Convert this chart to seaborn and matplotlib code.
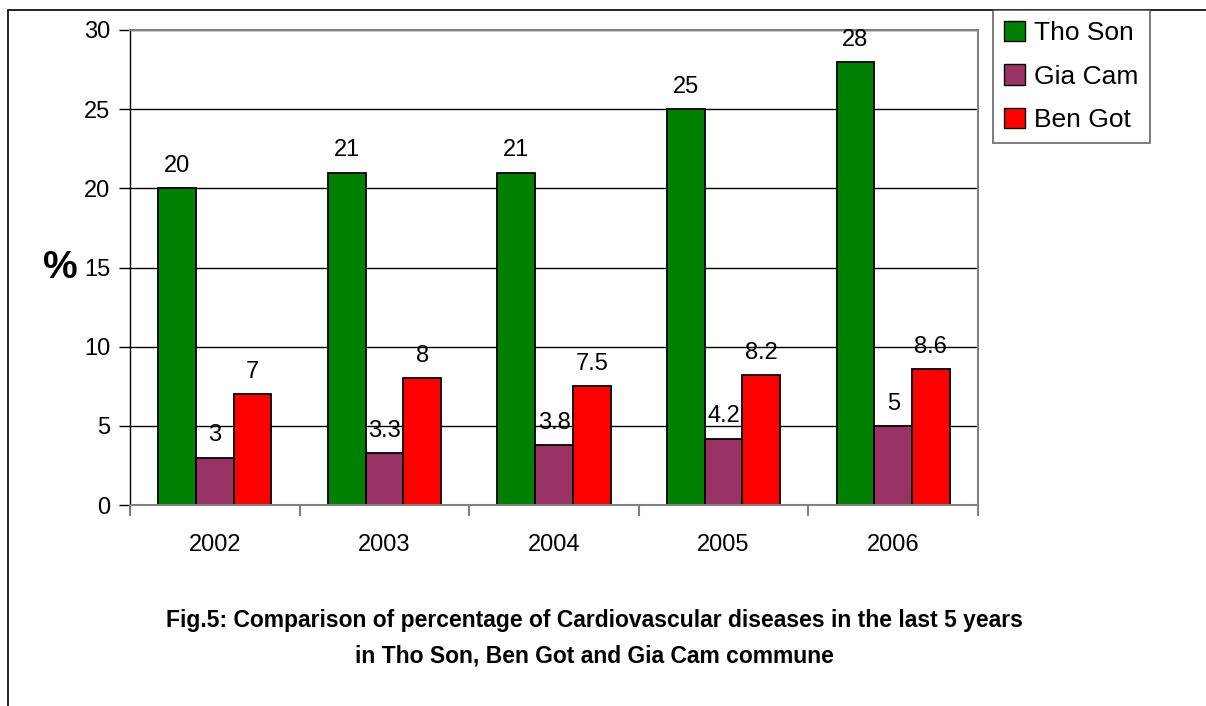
import matplotlib
matplotlib.use("Agg")
import matplotlib.pyplot as plt
import seaborn as sns
import pandas as pd
import numpy as np
from matplotlib.lines import Line2D
from matplotlib.patches import Patch

years = ["2002", "2003", "2004", "2005", "2006"]
series = ["Tho Son", "Gia Cam", "Ben Got"]
tho_son = [20, 21, 21, 25, 28]
gia_cam = [3, 3.3, 3.8, 4.2, 5]
ben_got = [7, 8, 7.5, 8.2, 8.6]
colors = ["#008000", "#993366", "#FF0000"]

df = pd.DataFrame({
    "year": years * 3,
    "series": [s for s in series for _ in years],
    "value": tho_son + gia_cam + ben_got,
})

sns.set_theme(style="white")
plt.rcParams["font.family"] = ["Liberation Sans", "DejaVu Sans"]
plt.rcParams["text.color"] = "black"
plt.rcParams["xtick.color"] = "black"
plt.rcParams["ytick.color"] = "black"
plt.rcParams["axes.labelcolor"] = "black"

fig = plt.figure(figsize=(12.06, 7.06), dpi=100)
ax = fig.add_axes([130 / 1206, 1 - 505 / 706, (978 - 130) / 1206, (505 - 30) / 706])

sns.barplot(data=df, x="year", y="value", hue="series", hue_order=series,
            palette=colors, width=0.667, gap=0, edgecolor="black", linewidth=1.3,
            saturation=1, legend=False, ax=ax)

for cont in ax.containers:
    ax.bar_label(cont, labels=[f"{v:g}" for v in cont.datavalues], padding=8,
                 fontsize=17, color="black")

ax.set_ylim(0, 30)
ax.set_xlim(-0.5, 4.5)
ax.set_yticks(np.arange(0, 31, 5))
ax.set_yticklabels([str(v) for v in range(0, 31, 5)], fontsize=17)
ax.yaxis.grid(True, color="black", linewidth=1)
ax.set_axisbelow(True)
ax.tick_params(axis="y", direction="out", length=8, width=1, color="black",
               labelcolor="black", pad=6, left=True)
ax.set_xticks(range(5))
ax.set_xticklabels(years, fontsize=17)
ax.tick_params(axis="x", which="major", length=0, pad=21, labelcolor="black")
ax.set_xticks(np.arange(-0.5, 4.6, 1), minor=True)
ax.tick_params(axis="x", which="minor", direction="out", length=8, width=1.5,
               color="#808080", bottom=True)
ax.set_xlabel("")
ax.set_ylabel("%", fontsize=28, fontweight="bold", rotation=0, va="center",
              ha="center", color="black")
ax.yaxis.set_label_coords(-0.082, 0.5)

for side in ["top", "right"]:
    ax.spines[side].set_color("#808080")
    ax.spines[side].set_linewidth(1.5)
ax.spines["left"].set_color("black")
ax.spines["left"].set_linewidth(1)
ax.spines["bottom"].set_color("#808080")
ax.spines["bottom"].set_linewidth(1.5)

handles = [Patch(facecolor=c, edgecolor="black", linewidth=1) for c in colors]
leg = fig.legend(handles, series, loc="upper left",
                 bbox_to_anchor=(993 / 1206, 1 - 10 / 706), fontsize=19,
                 frameon=True, fancybox=False, edgecolor="#404040",
                 handlelength=0.8, handleheight=0.8, handletextpad=0.35,
                 labelspacing=0.72, borderpad=0.42, borderaxespad=0)
leg.get_frame().set_linewidth(1.2)
for t in leg.get_texts():
    t.set_color("black")

fig.add_artist(Line2D([8 / 1206, 8 / 1206], [0, 1 - 10 / 706], color="black", linewidth=1.2,
                      transform=fig.transFigure))
fig.add_artist(Line2D([8 / 1206, 1], [1 - 10 / 706, 1 - 10 / 706], color="black", linewidth=1.2,
                      transform=fig.transFigure))

fig.text(594 / 1206, 1 - 620 / 706,
         "Fig.5: Comparison of percentage of Cardiovascular diseases in the last 5 years",
         ha="center", va="center", fontsize=16.5, fontweight="bold", color="black")
fig.text(594 / 1206, 1 - 656 / 706,
         "in Tho Son, Ben Got and Gia Cam commune",
         ha="center", va="center", fontsize=16.5, fontweight="bold", color="black")

fig.savefig("out.png", dpi=100)
